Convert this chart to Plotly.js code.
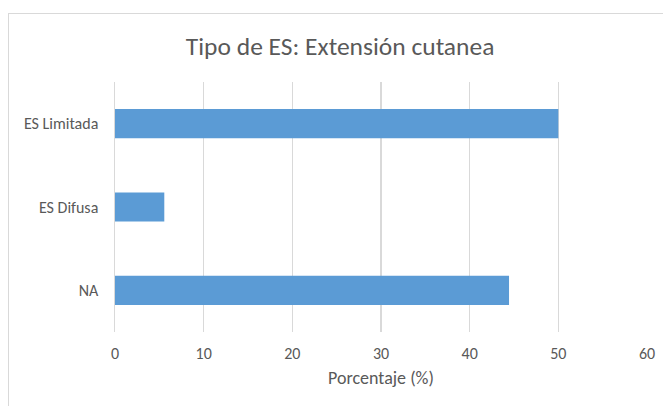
<!DOCTYPE html>
<html>
<head>
<meta charset="utf-8">
<script src="https://cdn.plot.ly/plotly-3.0.1.min.js"></script>
<style>
html,body{margin:0;padding:0;background:#fff;overflow:hidden;}
#frame{position:absolute;left:8px;top:13px;width:720px;height:500px;border:1px solid #d9d9d9;box-sizing:border-box;}
#chart{position:absolute;left:0;top:0;width:663px;height:406px;}
</style>
</head>
<body>
<div id="frame"></div>
<div id="chart"></div>
<script>
const categories = ["NA", "ES Difusa", "ES Limitada"];
const values = [44.44, 5.56, 50];
const xTicks = [0, 10, 20, 30, 40, 50, 60];

const font = "Calibri, Carlito, Lato, 'Open Sans', sans-serif";

Plotly.newPlot('chart', [{
  type: 'bar',
  orientation: 'h',
  y: categories,
  x: values,
  marker: {color: '#5b9bd5'},
  hoverinfo: 'x+y'
}], {
  width: 663, height: 406,
  paper_bgcolor: 'rgba(0,0,0,0)',
  plot_bgcolor: 'rgba(0,0,0,0)',
  margin: {l: 115, r: 16, t: 82, b: 74},
  bargap: 0.65,
  showlegend: false,
  title: {text: 'Tipo de ES: Extensión cutanea', x: 0.513, xref: 'container', xanchor: 'center', y: 0.887, yanchor: 'middle',
          font: {family: font, size: 25.5, color: '#595959'}},
  xaxis: {
    range: [0, 60], tickvals: xTicks, ticktext: xTicks.map(String),
    showgrid: true, gridcolor: '#d9d9d9', gridwidth: 1.5,
    zeroline: false, showline: false, ticks: '',
    tickfont: {family: font, size: 16, color: '#595959'},
    ticklabelstandoff: 10,
    title: {text: 'Porcentaje (%)', font: {family: font, size: 18, color: '#595959'}, standoff: 9},
    fixedrange: true
  },
  yaxis: {
    showline: true, linecolor: '#d9d9d9', linewidth: 1.5,
    ticks: '', showgrid: false, zeroline: false,
    tickfont: {family: font, size: 16, color: '#595959'},
    ticklabelstandoff: 12,
    fixedrange: true
  }
}, {displayModeBar: false, staticPlot: true});
</script>
</body>
</html>
